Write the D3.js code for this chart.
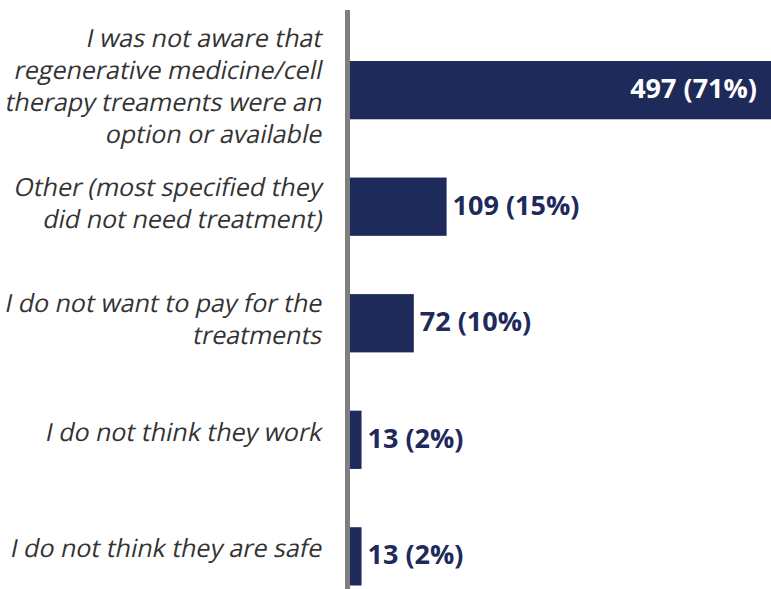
<!DOCTYPE html>
<html>
<head>
<meta charset="utf-8">
<script src="https://cdn.jsdelivr.net/npm/d3@7"></script>
<style>
  html, body { margin: 0; padding: 0; background: #fff; }
  svg { display: block; }
</style>
</head>
<body>
<div id="chart"></div>
<script>
const W = 771, H = 589;
const AXIS_X = 350;

// data
const categories = [
  ["I was not aware that", "regenerative medicine/cell", "therapy treaments were an", "option or available"],
  ["Other (most specified they", "did not need treatment)"],
  ["I do not want to pay for the", "treatments"],
  ["I do not think they work"],
  ["I do not think they are safe"]
];
const counts = [497, 109, 72, 13, 13];
const percents = [71, 15, 10, 2, 2];

const NAVY = "#1e2a5a";

const data = categories.map((c, i) => ({ id: i, lines: c, n: counts[i], pct: percents[i] }));

const svg = d3.select("#chart").append("svg")
  .attr("width", W)
  .attr("height", H);

const y = d3.scaleBand()
  .domain(data.map(d => d.id))
  .range([61, 585.5])
  .paddingInner(0.5)
  .paddingOuter(0);

// the top bar runs past the right edge of the picture
const x = d3.scaleLinear()
  .domain([0, 475])
  .range([AXIS_X, W]);

svg.append("g")
  .selectAll("rect")
  .data(data)
  .join("rect")
  .attr("x", x(0))
  .attr("y", d => y(d.id))
  .attr("width", d => x(d.n) - x(0))
  .attr("height", y.bandwidth())
  .attr("fill", NAVY);

// axis line
svg.append("line")
  .attr("x1", AXIS_X - 2.5).attr("x2", AXIS_X - 2.5)
  .attr("y1", 10).attr("y2", H)
  .attr("stroke", "#7f7f7f")
  .attr("stroke-width", 5);

// category labels (slanted regular face, like a synthetic italic)
const LINE_H = 32;
svg.append("g")
  .selectAll("g")
  .data(data)
  .join("g")
  .each(function(d) {
    const cy = y(d.id) + y.bandwidth() / 2;
    const shift = d.lines.length > 1 ? 5 : 1;
    const first = cy + shift - (d.lines.length - 1) * LINE_H / 2;
    d3.select(this).selectAll("text")
      .data(d.lines)
      .join("text")
      .attr("transform", (t, k) => `translate(321,${first + k * LINE_H}) skewX(-12)`)
      .attr("text-anchor", "end")
      .attr("font-family", "'Open Sans', sans-serif")
      .attr("font-size", 25)
      .attr("fill", "#333")
      .text(t => t);
  });

// value labels
svg.append("g")
  .selectAll("text")
  .data(data)
  .join("text")
  .attr("font-family", "'Open Sans', sans-serif")
  .attr("font-weight", "bold")
  .attr("font-size", 27)
  .attr("dy", "0.3em")
  .attr("y", d => y(d.id) + y.bandwidth() / 2)
  .each(function(d) {
    const end = x(d.n);
    const inside = end > W - 150;
    d3.select(this)
      .attr("x", inside ? Math.min(end, W) - 14 : end + 6)
      .attr("text-anchor", inside ? "end" : "start")
      .attr("fill", inside ? "#fff" : NAVY);
  })
  .text(d => `${d.n} (${d.pct}%)`);
</script>
</body>
</html>
